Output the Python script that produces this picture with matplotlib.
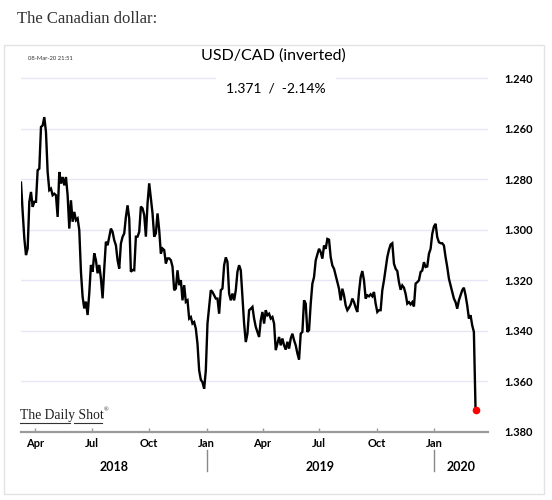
import matplotlib
matplotlib.use('Agg')
import matplotlib.pyplot as plt
import matplotlib.dates as mdates
import matplotlib.transforms as mtrans
from matplotlib.patches import Rectangle
from matplotlib.lines import Line2D
import pandas as pd

# USD/CAD (plotted on an inverted axis)
start_date = '2018-03-09'
end_date = '2020-03-08'
usdcad = [
    1.2813, 1.2929, 1.3034, 1.3100, 1.3074, 1.2889, 1.2850, 1.2909, 1.2889, 1.2889,
    1.2764, 1.2758, 1.2593, 1.2587, 1.2554, 1.2613, 1.2771, 1.2843, 1.2837, 1.2863,
    1.2857, 1.2863, 1.2949, 1.2771, 1.2817, 1.2791, 1.2824, 1.2791, 1.2863, 1.2995,
    1.2883, 1.2968, 1.2929, 1.2962, 1.2955, 1.3001, 1.3166, 1.3265, 1.3311, 1.3284,
    1.3337, 1.3251, 1.3139, 1.3166, 1.3093, 1.3120, 1.3172, 1.3139, 1.3192, 1.3271,
    1.3153, 1.3047, 1.3061, 1.3028, 1.2995, 1.3008, 1.3041, 1.3061, 1.3120, 1.3153,
    1.3054, 1.3028, 1.3014, 1.2949, 1.2903, 1.2955, 1.3166, 1.3159,
    # Oct 2018 - Feb 2019
    1.3160, 1.3027, 1.3027, 1.3008, 1.2908, 1.2915, 1.2941, 1.3027, 1.2895, 1.2816,
    1.2875, 1.2935, 1.3027, 1.3014, 1.2935, 1.3001, 1.3094, 1.3074, 1.3080, 1.3133,
    1.3113, 1.3113, 1.3120, 1.3146, 1.3239, 1.3232, 1.3160, 1.3219, 1.3199, 1.3279,
    1.3219, 1.3285, 1.3279, 1.3351, 1.3345, 1.3371, 1.3365, 1.3391, 1.3451, 1.3556,
    1.3593, 1.3603, 1.3629, 1.3556, 1.3371, 1.3305, 1.3239, 1.3246, 1.3259, 1.3272,
    1.3272, 1.3332, 1.3239, 1.3232, 1.3140, 1.3109, 1.3127, 1.3252, 1.3279, 1.3252,
    1.3279, 1.3239, 1.3166, 1.3140, 1.3160, 1.3265, 1.3371, 1.3444, 1.3411, 1.3318,
    1.3312, 1.3305, 1.3351,
    # spring - autumn 2019
    1.3384, 1.3404, 1.3424, 1.3358, 1.3325, 1.3371, 1.3318, 1.3338, 1.3332, 1.3351,
    1.3345, 1.3371, 1.3476, 1.3450, 1.3424, 1.3457, 1.3430, 1.3457, 1.3474, 1.3443,
    1.3470, 1.3430, 1.3411, 1.3437, 1.3457, 1.3489, 1.3513, 1.3411, 1.3404, 1.3279,
    1.3292, 1.3404, 1.3397, 1.3292, 1.3213, 1.3187, 1.3121, 1.3097, 1.3075, 1.3088,
    1.3114, 1.3062, 1.3075, 1.3036, 1.3039, 1.3108, 1.3141, 1.3154, 1.3180, 1.3207,
    1.3233, 1.3279, 1.3233, 1.3259, 1.3299, 1.3318, 1.3308, 1.3295, 1.3272, 1.3286,
    1.3308, 1.3325, 1.3246, 1.3187, 1.3163, 1.3200, 1.3272, 1.3259, 1.3263, 1.3255,
    1.3263, 1.3246,
    # late 2019 - Mar 2020
    1.3292, 1.3325, 1.3318, 1.3318, 1.3239, 1.3200, 1.3154, 1.3108, 1.3079, 1.3058,
    1.3053, 1.3134, 1.3154, 1.3163, 1.3207, 1.3237, 1.3220, 1.3229, 1.3253, 1.3292,
    1.3286, 1.3295, 1.3286, 1.3303, 1.3213, 1.3207, 1.3200, 1.3167, 1.3161, 1.3128,
    1.3147, 1.3145, 1.3095, 1.3075, 1.3016, 1.2987, 1.2976, 1.3029, 1.3049, 1.3053,
    1.3053, 1.3062, 1.3108, 1.3147, 1.3193, 1.3220, 1.3246, 1.3272, 1.3286, 1.3312,
    1.3279, 1.3259, 1.3239, 1.3229, 1.3259, 1.3299, 1.3351, 1.3338, 1.3378, 1.3404,
    1.3713,
]

y_ticks = [1.240, 1.260, 1.280, 1.300, 1.320, 1.340, 1.360, 1.380]
tick_dates = ['2018-04-01', '2018-07-01', '2018-10-01', '2019-01-01',
              '2019-04-01', '2019-07-01', '2019-10-01', '2020-01-01']
tick_labels = ['Apr', 'Jul', 'Oct', 'Jan', 'Apr', 'Jul', 'Oct', 'Jan']
years = ['2018', '2019', '2020']
year_bounds = ['2018-03-09', '2019-01-01', '2020-01-01', '2020-03-28']

plt.rcParams['font.family'] = ['Lato', 'DejaVu Sans']

W, H = 552, 500
fig = plt.figure(figsize=(W / 100, H / 100), dpi=100)


def fx(px):
    return px / W


def fy(py):
    return 1 - py / H


# chart frame
fig.patches.append(Rectangle((fx(4), fy(494)), fx(544) - fx(4), fy(45) - fy(494),
                             transform=fig.transFigure, fill=False,
                             edgecolor='#e2e2e2', lw=1))

ax = fig.add_axes([fx(21), fy(432), fx(488) - fx(21), fy(58) - fy(432)])

dates = pd.date_range(start_date, end_date, periods=len(usdcad))
ax.plot(dates, usdcad, color='black', lw=1.7, solid_joinstyle='miter')
ax.plot(dates[-1], usdcad[-1], 'o', color='red', ms=4.5)

ax.set_xlim(pd.Timestamp(year_bounds[0]), pd.Timestamp(year_bounds[-1]))
ax.set_ylim(1.380, 1.232)

ax.set_yticks(y_ticks)
ax.set_yticklabels([f'{v:.3f}' for v in y_ticks])
ax.yaxis.tick_right()
ax.tick_params(axis='y', length=0, pad=12, labelsize=8)
for lab in ax.get_yticklabels():
    lab.set_fontweight('bold')
ax.grid(axis='y', color='#e6e6f7', lw=1)
ax.set_axisbelow(True)

ax.set_xticks(pd.to_datetime(tick_dates))
ax.set_xticklabels(tick_labels, fontweight='bold', fontsize=8)
ax.tick_params(axis='x', direction='in', length=3, width=1, color='#999999', pad=4)

for s in ['top', 'left', 'right']:
    ax.spines[s].set_visible(False)
ax.spines['bottom'].set_color('#9a9a9a')
ax.spines['bottom'].set_linewidth(1.6)

# year labels and dividers below the axis
trans = mtrans.blended_transform_factory(ax.transData, fig.transFigure)
for i, yr in enumerate(years):
    a = mdates.date2num(pd.Timestamp(year_bounds[i]))
    b = mdates.date2num(pd.Timestamp(year_bounds[i + 1]))
    ax.text((a + b) / 2, fy(467), yr, transform=trans, ha='center', va='center',
            fontsize=9, fontweight='bold')
for d in year_bounds[1:-1]:
    x = mdates.date2num(pd.Timestamp(d))
    ax.add_line(Line2D([x, x], [fy(450), fy(471)], transform=trans, color='#888888',
                       lw=1, clip_on=False))

# titles
fig.text(fx(273), fy(56), 'USD/CAD (inverted)', ha='center', va='center', fontsize=11.5)
fig.text(fx(276), fy(89), '1.371  /  -2.14%', ha='center', va='center', fontsize=10,
         bbox=dict(facecolor='white', edgecolor='none', pad=7))
fig.text(fx(28), fy(58), '08-Mar-20 21:51', ha='left', va='center', fontsize=4.2,
         color='#333333')
fig.text(fx(17), fy(19), 'The Canadian dollar:', ha='left', va='center', fontsize=12,
         family='Liberation Serif', color='#333333')

# logo
fig.text(fx(20), fy(415), 'The Daily Shot', ha='left', va='center', fontsize=9.8,
         family='Liberation Serif', color='#222222')
fig.text(fx(104), fy(410), '®', ha='left', va='center', fontsize=4.5,
         family='Liberation Serif', color='#222222')
fig.add_artist(Line2D([fx(20), fx(70)], [fy(423), fy(423)], color='#333333', lw=0.8))
fig.add_artist(Line2D([fx(74), fx(102)], [fy(423), fy(423)], color='#333333', lw=0.8))

fig.savefig('out.png', dpi=100, facecolor='white')
